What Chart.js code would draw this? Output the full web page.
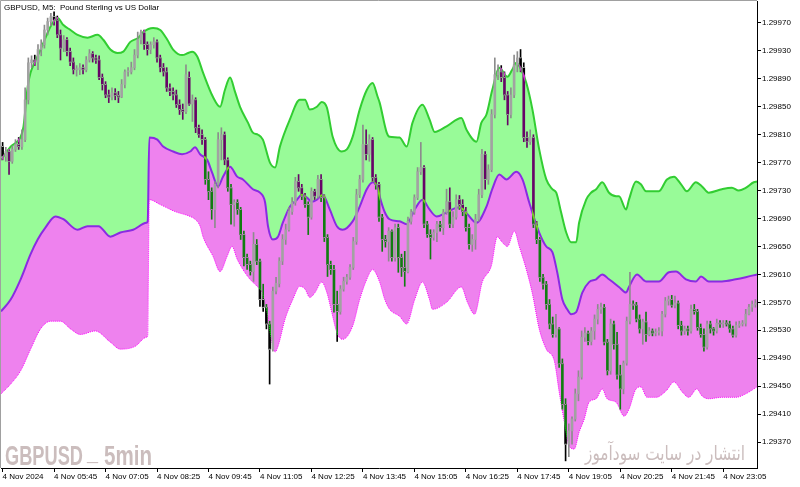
<!DOCTYPE html>
<html>
<head>
<meta charset="utf-8">
<script src="https://cdn.jsdelivr.net/npm/chart.js@4.4.1/dist/chart.umd.min.js"></script>
<style>
  html, body { margin: 0; padding: 0; background: #fff; }
  canvas { display: block; }
</style>
</head>
<body>
<canvas id="chart" width="800" height="487"></canvas>
<script>
// GBPUSD M5, 4 Nov 2024 - one candle every 5 minutes starting 04:25
const open = [
  1.29793, 1.29779, 1.29786, 1.29772, 1.29789, 1.29796, 1.29793, 1.29803, 1.29860, 1.29913,
  1.29917, 1.29914, 1.29932, 1.29939, 1.29960, 1.29972, 1.29979, 1.29974, 1.29953, 1.29934,
  1.29946, 1.29929, 1.29914, 1.29903, 1.29903, 1.29906, 1.29903, 1.29917, 1.29926, 1.29920,
  1.29917, 1.29892, 1.29882, 1.29867, 1.29864, 1.29870, 1.29866, 1.29864, 1.29882, 1.29900,
  1.29900, 1.29906, 1.29924, 1.29946, 1.29956, 1.29939, 1.29932, 1.29939, 1.29943, 1.29920,
  1.29906, 1.29900, 1.29877, 1.29872, 1.29867, 1.29853, 1.29846, 1.29843, 1.29892, 1.29854,
  1.29860, 1.29820, 1.29810, 1.29803, 1.29746, 1.29729, 1.29703, 1.29739, 1.29803, 1.29810,
  1.29774, 1.29734, 1.29710, 1.29713, 1.29703, 1.29667, 1.29634, 1.29624, 1.29614, 1.29653,
  1.29629, 1.29574, 1.29563, 1.29539, 1.29503, 1.29586, 1.29597, 1.29629, 1.29660, 1.29674,
  1.29700, 1.29713, 1.29743, 1.29734, 1.29722, 1.29710, 1.29692, 1.29729, 1.29722, 1.29746,
  1.29720, 1.29663, 1.29624, 1.29617, 1.29567, 1.29557, 1.29589, 1.29600, 1.29606, 1.29620,
  1.29657, 1.29724, 1.29746, 1.29796, 1.29782, 1.29803, 1.29749, 1.29739, 1.29692, 1.29660,
  1.29657, 1.29672, 1.29634, 1.29677, 1.29634, 1.29620, 1.29614, 1.29686, 1.29699, 1.29720,
  1.29757, 1.29763, 1.29682, 1.29667, 1.29663, 1.29670, 1.29682, 1.29677, 1.29699, 1.29714,
  1.29682, 1.29692, 1.29717, 1.29710, 1.29700, 1.29677, 1.29653, 1.29660, 1.29689, 1.29724,
  1.29782, 1.29746, 1.29760, 1.29839, 1.29896, 1.29900, 1.29892, 1.29867, 1.29839, 1.29867,
  1.29910, 1.29920, 1.29906, 1.29806, 1.29800, 1.29806, 1.29682, 1.29660, 1.29606, 1.29596,
  1.29567, 1.29539, 1.29524, 1.29532, 1.29482, 1.29424, 1.29367, 1.29386, 1.29403, 1.29439,
  1.29463, 1.29520, 1.29526, 1.29514, 1.29529, 1.29546, 1.29560, 1.29563, 1.29513, 1.29472,
  1.29539, 1.29510, 1.29466, 1.29446, 1.29483, 1.29543, 1.29567, 1.29566, 1.29546, 1.29532,
  1.29542, 1.29524, 1.29529, 1.29526, 1.29527, 1.29529, 1.29553, 1.29572, 1.29574, 1.29566,
  1.29569, 1.29537, 1.29529, 1.29532, 1.29529, 1.29560, 1.29557, 1.29534, 1.29524, 1.29506,
  1.29539, 1.29532, 1.29529, 1.29540, 1.29539, 1.29540, 1.29539, 1.29532, 1.29523, 1.29537,
  1.29539, 1.29540, 1.29553, 1.29563, 1.29567
];
const high = [
  1.29799, 1.29792, 1.29789, 1.29794, 1.29803, 1.29806, 1.29817, 1.29877, 1.29920, 1.29923,
  1.29924, 1.29939, 1.29946, 1.29967, 1.29977, 1.29984, 1.29986, 1.29980, 1.29960, 1.29952,
  1.29949, 1.29934, 1.29920, 1.29909, 1.29912, 1.29910, 1.29922, 1.29932, 1.29929, 1.29924,
  1.29923, 1.29897, 1.29886, 1.29874, 1.29877, 1.29876, 1.29872, 1.29889, 1.29903, 1.29906,
  1.29914, 1.29932, 1.29957, 1.29960, 1.29960, 1.29943, 1.29943, 1.29949, 1.29946, 1.29924,
  1.29912, 1.29906, 1.29883, 1.29877, 1.29874, 1.29860, 1.29854, 1.29910, 1.29900, 1.29867,
  1.29863, 1.29824, 1.29817, 1.29806, 1.29757, 1.29734, 1.29743, 1.29813, 1.29820, 1.29814,
  1.29777, 1.29739, 1.29717, 1.29717, 1.29706, 1.29672, 1.29639, 1.29629, 1.29670, 1.29660,
  1.29632, 1.29596, 1.29567, 1.29543, 1.29592, 1.29606, 1.29634, 1.29667, 1.29682, 1.29706,
  1.29720, 1.29749, 1.29753, 1.29739, 1.29726, 1.29714, 1.29734, 1.29732, 1.29752, 1.29753,
  1.29724, 1.29667, 1.29629, 1.29623, 1.29586, 1.29594, 1.29606, 1.29610, 1.29624, 1.29663,
  1.29732, 1.29752, 1.29824, 1.29817, 1.29810, 1.29806, 1.29753, 1.29742, 1.29696, 1.29666,
  1.29677, 1.29674, 1.29682, 1.29682, 1.29639, 1.29643, 1.29692, 1.29703, 1.29724, 1.29763,
  1.29799, 1.29766, 1.29686, 1.29674, 1.29674, 1.29686, 1.29686, 1.29703, 1.29732, 1.29734,
  1.29700, 1.29724, 1.29723, 1.29717, 1.29706, 1.29682, 1.29667, 1.29696, 1.29732, 1.29789,
  1.29786, 1.29767, 1.29846, 1.29920, 1.29910, 1.29909, 1.29900, 1.29872, 1.29877, 1.29924,
  1.29929, 1.29932, 1.29913, 1.29814, 1.29817, 1.29810, 1.29686, 1.29663, 1.29610, 1.29600,
  1.29574, 1.29549, 1.29553, 1.29534, 1.29489, 1.29432, 1.29396, 1.29406, 1.29446, 1.29472,
  1.29529, 1.29534, 1.29529, 1.29534, 1.29552, 1.29567, 1.29569, 1.29567, 1.29517, 1.29546,
  1.29543, 1.29527, 1.29480, 1.29486, 1.29549, 1.29613, 1.29572, 1.29570, 1.29552, 1.29546,
  1.29556, 1.29534, 1.29532, 1.29532, 1.29534, 1.29557, 1.29577, 1.29579, 1.29580, 1.29579,
  1.29572, 1.29543, 1.29536, 1.29536, 1.29566, 1.29567, 1.29560, 1.29539, 1.29532, 1.29543,
  1.29543, 1.29534, 1.29546, 1.29544, 1.29544, 1.29544, 1.29543, 1.29536, 1.29542, 1.29543,
  1.29544, 1.29560, 1.29567, 1.29572, 1.29574
];
const low = [
  1.29774, 1.29772, 1.29753, 1.29769, 1.29786, 1.29789, 1.29789, 1.29800, 1.29854, 1.29906,
  1.29909, 1.29903, 1.29923, 1.29934, 1.29953, 1.29966, 1.29967, 1.29949, 1.29917, 1.29929,
  1.29923, 1.29909, 1.29897, 1.29894, 1.29896, 1.29897, 1.29900, 1.29914, 1.29914, 1.29912,
  1.29889, 1.29874, 1.29863, 1.29856, 1.29860, 1.29860, 1.29856, 1.29863, 1.29877, 1.29894,
  1.29897, 1.29903, 1.29920, 1.29940, 1.29932, 1.29924, 1.29926, 1.29934, 1.29914, 1.29900,
  1.29894, 1.29872, 1.29866, 1.29860, 1.29849, 1.29839, 1.29832, 1.29840, 1.29852, 1.29829,
  1.29813, 1.29806, 1.29796, 1.29739, 1.29717, 1.29689, 1.29677, 1.29734, 1.29774, 1.29767,
  1.29729, 1.29682, 1.29679, 1.29696, 1.29660, 1.29622, 1.29617, 1.29609, 1.29600, 1.29624,
  1.29564, 1.29557, 1.29532, 1.29453, 1.29500, 1.29582, 1.29592, 1.29624, 1.29653, 1.29672,
  1.29696, 1.29709, 1.29729, 1.29717, 1.29706, 1.29667, 1.29689, 1.29717, 1.29719, 1.29714,
  1.29657, 1.29607, 1.29610, 1.29556, 1.29514, 1.29553, 1.29586, 1.29596, 1.29603, 1.29617,
  1.29653, 1.29720, 1.29742, 1.29774, 1.29772, 1.29743, 1.29732, 1.29686, 1.29643, 1.29649,
  1.29629, 1.29629, 1.29629, 1.29613, 1.29607, 1.29593, 1.29612, 1.29682, 1.29696, 1.29717,
  1.29753, 1.29677, 1.29663, 1.29632, 1.29659, 1.29657, 1.29672, 1.29667, 1.29696, 1.29677,
  1.29677, 1.29689, 1.29703, 1.29694, 1.29672, 1.29646, 1.29643, 1.29646, 1.29686, 1.29720,
  1.29732, 1.29739, 1.29757, 1.29834, 1.29889, 1.29886, 1.29860, 1.29824, 1.29834, 1.29863,
  1.29900, 1.29900, 1.29800, 1.29792, 1.29796, 1.29677, 1.29654, 1.29600, 1.29589, 1.29560,
  1.29532, 1.29520, 1.29520, 1.29477, 1.29417, 1.29343, 1.29349, 1.29367, 1.29400, 1.29429,
  1.29460, 1.29514, 1.29509, 1.29509, 1.29517, 1.29539, 1.29554, 1.29509, 1.29466, 1.29467,
  1.29503, 1.29460, 1.29417, 1.29439, 1.29480, 1.29539, 1.29560, 1.29542, 1.29526, 1.29510,
  1.29514, 1.29522, 1.29522, 1.29522, 1.29523, 1.29522, 1.29549, 1.29566, 1.29563, 1.29562,
  1.29532, 1.29523, 1.29524, 1.29523, 1.29526, 1.29553, 1.29530, 1.29520, 1.29500, 1.29503,
  1.29526, 1.29523, 1.29526, 1.29534, 1.29534, 1.29536, 1.29527, 1.29520, 1.29520, 1.29534,
  1.29536, 1.29536, 1.29552, 1.29557, 1.29563
];
const close = [
  1.29779, 1.29786, 1.29772, 1.29789, 1.29796, 1.29793, 1.29803, 1.29860, 1.29913, 1.29917,
  1.29914, 1.29932, 1.29939, 1.29960, 1.29972, 1.29979, 1.29974, 1.29953, 1.29934, 1.29946,
  1.29929, 1.29914, 1.29903, 1.29903, 1.29906, 1.29903, 1.29917, 1.29926, 1.29920, 1.29917,
  1.29892, 1.29882, 1.29867, 1.29864, 1.29870, 1.29866, 1.29864, 1.29882, 1.29900, 1.29900,
  1.29906, 1.29924, 1.29946, 1.29956, 1.29939, 1.29932, 1.29939, 1.29943, 1.29920, 1.29906,
  1.29900, 1.29877, 1.29872, 1.29867, 1.29853, 1.29846, 1.29843, 1.29896, 1.29854, 1.29860,
  1.29820, 1.29810, 1.29803, 1.29746, 1.29729, 1.29703, 1.29739, 1.29803, 1.29810, 1.29774,
  1.29734, 1.29710, 1.29713, 1.29703, 1.29667, 1.29634, 1.29624, 1.29614, 1.29653, 1.29629,
  1.29574, 1.29563, 1.29539, 1.29503, 1.29586, 1.29597, 1.29629, 1.29660, 1.29674, 1.29700,
  1.29713, 1.29743, 1.29734, 1.29722, 1.29710, 1.29692, 1.29729, 1.29722, 1.29746, 1.29720,
  1.29663, 1.29624, 1.29617, 1.29567, 1.29557, 1.29589, 1.29600, 1.29606, 1.29620, 1.29657,
  1.29724, 1.29746, 1.29796, 1.29782, 1.29803, 1.29749, 1.29739, 1.29692, 1.29660, 1.29657,
  1.29672, 1.29634, 1.29677, 1.29634, 1.29620, 1.29614, 1.29686, 1.29699, 1.29720, 1.29757,
  1.29763, 1.29682, 1.29667, 1.29663, 1.29670, 1.29682, 1.29677, 1.29699, 1.29714, 1.29682,
  1.29692, 1.29717, 1.29710, 1.29700, 1.29677, 1.29653, 1.29660, 1.29689, 1.29724, 1.29782,
  1.29746, 1.29760, 1.29839, 1.29896, 1.29900, 1.29892, 1.29867, 1.29839, 1.29867, 1.29910,
  1.29920, 1.29906, 1.29806, 1.29800, 1.29806, 1.29682, 1.29660, 1.29606, 1.29596, 1.29567,
  1.29539, 1.29524, 1.29532, 1.29482, 1.29424, 1.29367, 1.29386, 1.29403, 1.29439, 1.29463,
  1.29520, 1.29526, 1.29514, 1.29529, 1.29546, 1.29560, 1.29563, 1.29513, 1.29472, 1.29539,
  1.29510, 1.29466, 1.29446, 1.29483, 1.29543, 1.29567, 1.29566, 1.29546, 1.29532, 1.29542,
  1.29524, 1.29529, 1.29526, 1.29527, 1.29529, 1.29553, 1.29572, 1.29574, 1.29566, 1.29569,
  1.29537, 1.29529, 1.29532, 1.29529, 1.29560, 1.29557, 1.29534, 1.29524, 1.29506, 1.29539,
  1.29532, 1.29529, 1.29540, 1.29539, 1.29540, 1.29539, 1.29532, 1.29523, 1.29537, 1.29539,
  1.29540, 1.29553, 1.29563, 1.29567, 1.29569
];

// time axis: bar index of each labelled tick and its text
const tickBars = [0, 16, 32, 48, 64, 80, 96, 112, 128, 144, 160, 176, 192, 208, 224];
const tickLabels = ['4 Nov 2024', '4 Nov 05:45', '4 Nov 07:05', '4 Nov 08:25', '4 Nov 09:45',
  '4 Nov 11:05', '4 Nov 12:25', '4 Nov 13:45', '4 Nov 15:05', '4 Nov 16:25', '4 Nov 17:45',
  '4 Nov 19:05', '4 Nov 20:25', '4 Nov 21:45', '4 Nov 23:05'];
const priceTicks = [1.29970, 1.29930, 1.29890, 1.29850, 1.29810, 1.29770, 1.29730, 1.29690,
  1.29650, 1.29610, 1.29570, 1.29530, 1.29490, 1.29450, 1.29410, 1.29370];

// envelope lines, read at bar positions
const upperX = [-0.5, 2.5, 5.6, 6.5, 7.8, 8.7, 9.6, 11.8, 14.0, 15.5, 17.1, 18.9, 21.1, 23.3, 26.4,
  29.5, 31.3, 33.5, 35.7, 37.5, 39.7, 42.2, 43.7, 46.8, 49.0, 51.2, 53.0, 55.8, 57.7, 58.9, 60.5,
  62.3, 65.4, 67.6, 69.1, 70.7, 72.2, 73.8, 76.3, 77.8, 79.4, 80.9, 83.1, 84.7, 86.2, 89.3, 92.4,
  94.0, 95.5, 97.7, 99.2, 100.8, 102.6, 105.4, 107.0, 108.8, 111.0, 113.2, 115.0, 116.6, 117.2,
  119.4, 120.3, 123.4, 125.6, 127.4, 130.5, 132.7, 134.3, 138.0, 142.6, 144.2, 147.3, 148.8,
  150.4, 152.2, 154.4, 156.9, 158.4, 159.7, 161.2, 162.8, 164.7, 166.8, 169.0, 170.9, 172.1,
  173.6, 175.2, 176.7, 178.3, 179.2, 181.4, 182.9, 184.5, 186.4, 188.5, 190.7, 191.6, 193.8,
  194.7, 196.9, 198.4, 200.0, 204.0, 206.5, 208.7, 210.9, 212.7, 215.5, 217.4, 219.5, 223.6,
  226.7, 228.8, 231.0, 233.5, 234.5];
const upperY = [1.29774, 1.29793, 1.29807, 1.29822, 1.29879, 1.29899, 1.29910, 1.29932, 1.29956,
  1.29970, 1.29977, 1.29967, 1.29960, 1.29953, 1.29949, 1.29953, 1.29946, 1.29932, 1.29927,
  1.29929, 1.29943, 1.29949, 1.29957, 1.29963, 1.29960, 1.29946, 1.29932, 1.29924, 1.29927,
  1.29929, 1.29922, 1.29899, 1.29864, 1.29850, 1.29874, 1.29892, 1.29872, 1.29850, 1.29827,
  1.29813, 1.29810, 1.29803, 1.29770, 1.29763, 1.29793, 1.29832, 1.29860, 1.29860, 1.29846,
  1.29850, 1.29857, 1.29849, 1.29807, 1.29786, 1.29789, 1.29807, 1.29846, 1.29874, 1.29884,
  1.29864, 1.29856, 1.29813, 1.29807, 1.29806, 1.29793, 1.29827, 1.29853, 1.29832, 1.29814,
  1.29822, 1.29834, 1.29817, 1.29800, 1.29827, 1.29839, 1.29874, 1.29906, 1.29893, 1.29903,
  1.29913, 1.29903, 1.29884, 1.29846, 1.29789, 1.29746, 1.29732, 1.29727, 1.29699, 1.29670,
  1.29656, 1.29656, 1.29684, 1.29717, 1.29727, 1.29732, 1.29742, 1.29727, 1.29722, 1.29722,
  1.29703, 1.29717, 1.29743, 1.29739, 1.29729, 1.29729, 1.29746, 1.29750, 1.29739, 1.29729,
  1.29742, 1.29736, 1.29727, 1.29732, 1.29734, 1.29730, 1.29734, 1.29742, 1.29743];

const middleX = [-0.5, 2.5, 5.6, 8.7, 10.9, 13.3, 16.4, 18.9, 23.3, 26.4, 29.8, 33.5, 36.6, 40.6,
  44.7, 45.1, 45.6, 48.1, 49.9, 53.0, 55.8, 58.3, 59.8, 61.4, 63.6, 65.1, 67.0, 68.5, 70.7, 72.9,
  74.7, 77.8, 80.0, 81.6, 82.5, 84.0, 85.6, 87.1, 89.3, 91.5, 93.0, 94.6, 96.1, 97.7, 99.5, 101.7,
  103.9, 105.7, 108.8, 111.0, 113.2, 115.0, 116.6, 117.2, 118.8, 120.3, 123.4, 125.6, 128.1,
  130.5, 132.7, 134.9, 138.0, 142.0, 144.5, 147.3, 150.4, 152.2, 154.4, 156.6, 159.7, 161.6,
  163.7, 166.8, 169.0, 170.9, 172.4, 174.0, 175.5, 176.7, 178.3, 180.2, 182.3, 184.5, 186.4,
  188.5, 191.6, 193.8, 194.7, 197.2, 200.0, 204.0, 207.1, 209.3, 212.4, 215.5, 217.1, 219.5,
  223.6, 227.9, 231.0, 234.5];
const middleY = [1.29557, 1.29574, 1.29603, 1.29639, 1.29660, 1.29677, 1.29693, 1.29689, 1.29674,
  1.29679, 1.29679, 1.29664, 1.29670, 1.29674, 1.29684, 1.29686, 1.29806, 1.29803, 1.29793,
  1.29786, 1.29782, 1.29786, 1.29792, 1.29782, 1.29774, 1.29756, 1.29736, 1.29750, 1.29764,
  1.29750, 1.29746, 1.29732, 1.29727, 1.29713, 1.29679, 1.29660, 1.29664, 1.29684, 1.29707,
  1.29717, 1.29724, 1.29720, 1.29714, 1.29717, 1.29724, 1.29703, 1.29679, 1.29674, 1.29686,
  1.29707, 1.29732, 1.29742, 1.29734, 1.29722, 1.29699, 1.29689, 1.29686, 1.29682, 1.29703,
  1.29717, 1.29703, 1.29693, 1.29699, 1.29706, 1.29696, 1.29684, 1.29707, 1.29732, 1.29753,
  1.29746, 1.29757, 1.29746, 1.29713, 1.29670, 1.29650, 1.29642, 1.29613, 1.29574, 1.29560,
  1.29553, 1.29556, 1.29584, 1.29599, 1.29603, 1.29610, 1.29603, 1.29592, 1.29584, 1.29592,
  1.29610, 1.29600, 1.29600, 1.29613, 1.29614, 1.29603, 1.29600, 1.29607, 1.29600, 1.29600,
  1.29603, 1.29606, 1.29610];

const lowerX = [-0.5, 2.5, 5.6, 8.7, 11.8, 14.9, 18.0, 21.1, 24.2, 28.8, 33.5, 36.6, 41.2, 44.7,
  45.1, 45.6, 49.0, 53.6, 58.3, 59.8, 61.4, 62.3, 65.4, 67.6, 69.8, 71.3, 72.9, 74.7, 76.9, 79.1,
  80.6, 82.2, 83.7, 84.7, 85.6, 87.8, 90.2, 92.4, 94.0, 95.5, 97.1, 99.2, 100.8, 102.3, 103.9,
  105.7, 108.8, 111.0, 113.2, 115.0, 117.2, 118.8, 120.3, 123.4, 125.6, 128.1, 130.5, 132.7,
  133.6, 138.0, 142.6, 144.5, 146.7, 149.1, 151.9, 153.8, 155.3, 156.9, 159.1, 160.6, 162.8,
  164.7, 166.8, 169.0, 171.5, 173.0, 174.6, 176.1, 177.7, 179.2, 180.8, 182.3, 184.5, 186.4,
  187.9, 190.7, 193.2, 194.7, 196.9, 198.4, 200.3, 203.1, 206.2, 208.7, 211.2, 213.3, 215.8,
  217.4, 219.5, 223.6, 227.9, 231.0, 234.5];
const lowerY = [1.29439, 1.29453, 1.29472, 1.29503, 1.29532, 1.29543, 1.29543, 1.29532, 1.29524,
  1.29529, 1.29513, 1.29503, 1.29507, 1.29520, 1.29522, 1.29717, 1.29710, 1.29700, 1.29693,
  1.29689, 1.29679, 1.29664, 1.29636, 1.29614, 1.29636, 1.29650, 1.29632, 1.29617, 1.29603,
  1.29593, 1.29584, 1.29556, 1.29513, 1.29499, 1.29507, 1.29546, 1.29574, 1.29593, 1.29589,
  1.29577, 1.29584, 1.29599, 1.29584, 1.29556, 1.29527, 1.29517, 1.29536, 1.29574, 1.29603,
  1.29617, 1.29599, 1.29574, 1.29560, 1.29550, 1.29539, 1.29574, 1.29599, 1.29574, 1.29560,
  1.29570, 1.29592, 1.29570, 1.29553, 1.29599, 1.29622, 1.29664, 1.29656, 1.29650, 1.29672,
  1.29650, 1.29617, 1.29582, 1.29532, 1.29503, 1.29486, 1.29442, 1.29399, 1.29364, 1.29360,
  1.29384, 1.29403, 1.29427, 1.29432, 1.29446, 1.29432, 1.29427, 1.29407, 1.29417, 1.29446,
  1.29449, 1.29434, 1.29434, 1.29443, 1.29456, 1.29442, 1.29434, 1.29446, 1.29436, 1.29432,
  1.29434, 1.29434, 1.29439, 1.29449];

const zip = (xs, ys) => xs.map((x, i) => ({ x: x, y: ys[i] }));

// split candles into bodies and wicks, bull / bear
function buildCandles() {
  const sets = { bullBody: [], bullWick: [], bearBody: [], bearWick: [] };
  for (let i = 0; i < close.length; i++) {
    const top = Math.max(open[i], close[i]);
    const bot = Math.min(open[i], close[i]);
    const bull = close[i] >= open[i];
    (bull ? sets.bullBody : sets.bearBody).push({ x: i, y: [bot, top] });
    const wick = bull ? sets.bullWick : sets.bearWick;
    if (high[i] > top) wick.push({ x: i, y: [top, high[i]] });
    if (low[i] < bot) wick.push({ x: i, y: [low[i], bot] });
  }
  return sets;
}
const candles = buildCandles();

const WATERMARK = '#cbbdbd';

function scaledText(ctx, text, font, x, y, width) {
  ctx.font = font;
  const w = ctx.measureText(text).width;
  ctx.save();
  ctx.translate(x, y);
  ctx.scale(width / w, 1);
  ctx.fillText(text, 0, 0);
  ctx.restore();
}

const mtStyle = {
  id: 'mtStyle',
  beforeDraw(chart) {
    const ctx = chart.ctx;
    ctx.save();
    ctx.fillStyle = '#fff';
    ctx.fillRect(0, 0, chart.width, chart.height);
    ctx.restore();
  },
  beforeDatasetsDraw(chart) {
    const ctx = chart.ctx;
    ctx.save();
    ctx.fillStyle = WATERMARK;
    ctx.textAlign = 'left';
    ctx.textBaseline = 'alphabetic';
    const wm = 'bold 27px "Liberation Sans"';
    scaledText(ctx, 'GBPUSD', wm, 5, 465, 78);
    scaledText(ctx, '_', wm, 87, 460, 11);
    scaledText(ctx, '5min', wm, 104, 465, 48);
    ctx.direction = 'rtl';
    scaledText(ctx, 'انتشار در سایت سودآموز', '20px "DejaVu Sans"', 585, 460, 160);
    ctx.restore();
  },
  beforeDatasetDraw(chart, args) {
    if (chart.data.datasets[args.index].invert) {
      chart.ctx.save();
      chart.ctx.globalCompositeOperation = 'difference';
    }
  },
  afterDatasetDraw(chart, args) {
    if (chart.data.datasets[args.index].invert) chart.ctx.restore();
  },
  afterDraw(chart) {
    const ctx = chart.ctx;
    const a = chart.chartArea;
    ctx.save();
    ctx.strokeStyle = '#a0a0a0';
    ctx.lineWidth = 1;
    ctx.beginPath();
    ctx.moveTo(0.5, a.bottom);
    ctx.lineTo(0.5, 0.5);
    ctx.lineTo(a.right, 0.5);
    ctx.stroke();
    ctx.fillStyle = '#000';
    ctx.font = '8px "Liberation Sans"';
    ctx.textBaseline = 'alphabetic';
    ctx.fillText('GBPUSD, M5:  Pound Sterling vs US Dollar', 4, 10);
    ctx.restore();
  }
};

Chart.defaults.font.family = '"Liberation Sans", Arial, sans-serif';

new Chart(document.getElementById('chart'), {
  type: 'bar',
  data: {
    datasets: [
      {
        type: 'line', label: 'Upper', data: zip(upperX, upperY),
        borderColor: '#32cd32', borderWidth: 2, backgroundColor: '#98fb98', fill: '+1',
        pointRadius: 0, cubicInterpolationMode: 'monotone', order: 12
      },
      {
        type: 'line', label: 'Middle', data: zip(middleX, middleY),
        borderColor: '#8a2be2', borderWidth: 2, backgroundColor: '#ee82ee', fill: '+1',
        pointRadius: 0, cubicInterpolationMode: 'monotone', order: 11
      },
      {
        type: 'line', label: 'Lower', data: zip(lowerX, lowerY),
        borderColor: '#ff00ff', borderWidth: 1, borderDash: [1, 1], fill: false,
        pointRadius: 0, cubicInterpolationMode: 'monotone', order: 10
      },
      {
        label: 'Bull wick', data: candles.bullWick, backgroundColor: '#8c8c8c',
        barThickness: 1, grouped: false, order: 4
      },
      {
        label: 'Bull body', data: candles.bullBody, backgroundColor: '#a2a2a2',
        barThickness: 2, minBarLength: 1, grouped: false, order: 3
      },
      {
        label: 'Bear wick', data: candles.bearWick, backgroundColor: '#ffffff', invert: true,
        barThickness: 1, grouped: false, order: 2
      },
      {
        label: 'Bear body', data: candles.bearBody, backgroundColor: '#ffffff', invert: true,
        barThickness: 2, minBarLength: 1, grouped: false, order: 1
      }
    ]
  },
  options: {
    responsive: false,
    animation: false,
    devicePixelRatio: 1,
    events: [],
    layout: { padding: { top: 1, left: 1, right: 0, bottom: 0 } },
    plugins: { legend: { display: false }, tooltip: { enabled: false } },
    scales: {
      x: {
        type: 'linear',
        offset: false,
        min: -0.5,
        max: 234.5,
        afterBuildTicks: (s) => { s.ticks = tickBars.map(v => ({ value: v })); },
        afterFit: (s) => { s.height = 19; s.paddingLeft = 0; s.paddingRight = 0; },
        ticks: {
          autoSkip: false, maxRotation: 0, align: 'start', padding: 0,
          color: '#000', font: { size: 8 },
          callback: (v, i) => tickLabels[i]
        },
        grid: { offset: false, drawOnChartArea: false, tickLength: 4, color: '#000' },
        border: { color: '#000' }
      },
      y: {
        position: 'right',
        min: 1.293328,
        max: 1.300015,
        afterBuildTicks: (s) => { s.ticks = priceTicks.map(v => ({ value: v })); },
        afterFit: (s) => { s.width = 43; s.paddingTop = 0; s.paddingBottom = 0; },
        ticks: {
          padding: 1, color: '#000', font: { size: 8 },
          callback: (v) => v.toFixed(5)
        },
        grid: { drawOnChartArea: false, tickLength: 4, color: '#000' },
        border: { color: '#000' }
      }
    }
  },
  plugins: [mtStyle]
});
</script>
</body>
</html>
